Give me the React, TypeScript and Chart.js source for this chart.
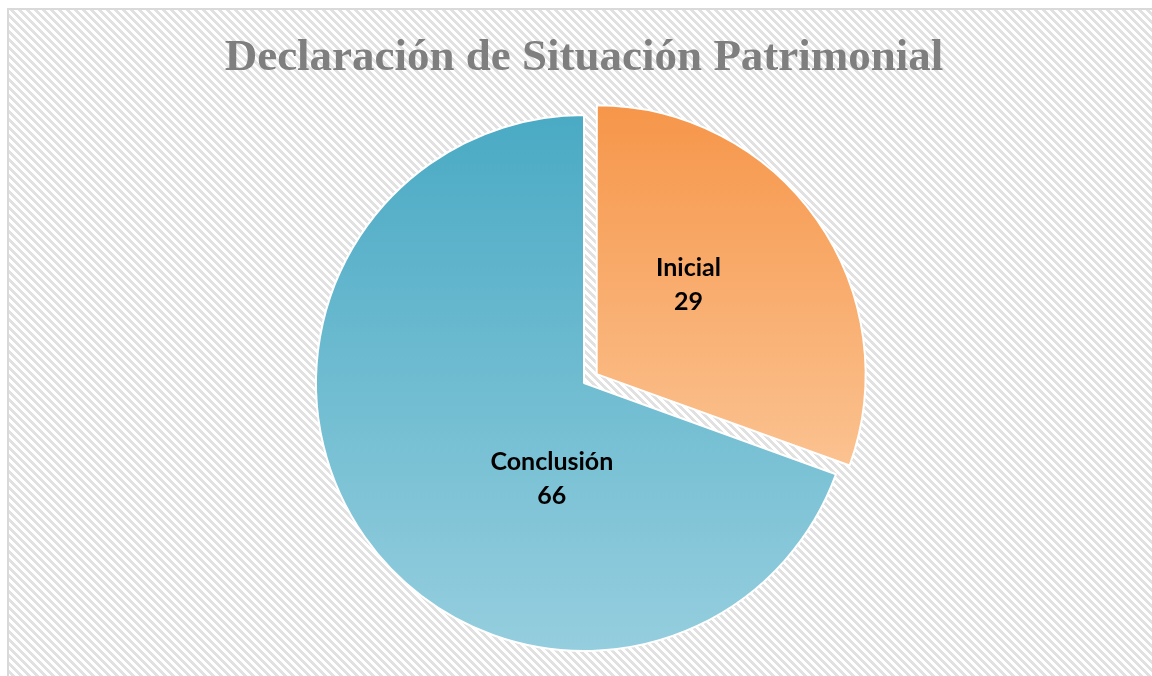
import React, { useEffect, useRef } from "react";
import { Chart, registerables } from "chart.js";

Chart.register(...registerables);

const TITLE = "Declaración de Situación Patrimonial";
const CATEGORIES = ["Inicial", "Conclusión"];
const VALUES = [29, 66];

const TOP_COLORS = ["#F6964A", "#4AAAC4"];
const BOTTOM_COLORS = ["#FBC290", "#95CEDE"];
// Chart.js draws an arc shifted by offset / 4
const OFFSETS = [62, 0];
// label anchor relative to the pie centre, in fractions of the radius
const LABEL_DX = [0.39, -0.12];
const LABEL_DY = [-0.367, 0.358];
const RADIUS = 268;

function makePattern(ctx: CanvasRenderingContext2D) {
  const p = document.createElement("canvas");
  p.width = 8;
  p.height = 8;
  const pc = p.getContext("2d")!;
  pc.fillStyle = "#ffffff";
  pc.fillRect(0, 0, 8, 8);
  pc.fillStyle = "#e1e1e1";
  for (let y = 0; y < 8; y++) {
    for (let x = 0; x < 8; x++) {
      const m = (((x - y) % 8) + 8) % 8;
      if (m < 4) pc.fillRect(x, y, 1, 1);
    }
  }
  return ctx.createPattern(p, "repeat")!;
}

const backgroundPlugin = {
  id: "hatchBackground",
  beforeDraw(chart: any) {
    const ctx = chart.ctx as CanvasRenderingContext2D;
    ctx.save();
    ctx.fillStyle = "#ffffff";
    ctx.fillRect(0, 0, chart.width, chart.height);
    ctx.fillStyle = makePattern(ctx);
    ctx.fillRect(8, 9, chart.width, chart.height);
    ctx.strokeStyle = "#d9d9d9";
    ctx.lineWidth = 2;
    ctx.beginPath();
    ctx.moveTo(8, chart.height);
    ctx.lineTo(8, 9);
    ctx.lineTo(chart.width, 9);
    ctx.stroke();
    ctx.restore();
  },
};

const labelPlugin = {
  id: "sliceLabels",
  afterDatasetsDraw(chart: any) {
    const ctx = chart.ctx as CanvasRenderingContext2D;
    const meta = chart.getDatasetMeta(0);
    ctx.save();
    ctx.fillStyle = "#000000";
    ctx.font = "bold 25px Lato";
    ctx.textAlign = "center";
    ctx.textBaseline = "middle";
    meta.data.forEach((arc: any, i: number) => {
      const p = arc.getProps(["x", "y", "outerRadius"], true);
      const cx = p.x + LABEL_DX[i] * p.outerRadius;
      const cy = p.y + LABEL_DY[i] * p.outerRadius;
      ctx.fillText(CATEGORIES[i], cx, cy - 17);
      ctx.fillText(String(VALUES[i]), cx, cy + 17);
    });
    ctx.restore();
  },
};

function sliceGradient(c: any) {
  const i = c.dataIndex;
  const chart = c.chart;
  const area = chart.chartArea;
  if (!area) return TOP_COLORS[i];
  const cy = (area.top + area.bottom) / 2;
  const total = VALUES.reduce((a, b) => a + b, 0);
  let a0 = -Math.PI / 2;
  for (let k = 0; k < i; k++) a0 += (VALUES[k] / total) * Math.PI * 2;
  const a1 = a0 + (VALUES[i] / total) * Math.PI * 2;
  const ys = [0, Math.sin(a0), Math.sin(a1)];
  const within = (t: number) => {
    for (let k = -2; k <= 2; k++) {
      const tt = t + k * Math.PI * 2;
      if (tt >= a0 && tt <= a1) return true;
    }
    return false;
  };
  if (within(Math.PI / 2)) ys.push(1);
  if (within(-Math.PI / 2)) ys.push(-1);
  const y0 = cy + RADIUS * Math.min(...ys);
  const y1 = cy + RADIUS * Math.max(...ys);
  const g = chart.ctx.createLinearGradient(0, y0, 0, y1);
  g.addColorStop(0, TOP_COLORS[i]);
  g.addColorStop(1, BOTTOM_COLORS[i]);
  return g;
}

export default function App() {
  const ref = useRef<HTMLCanvasElement | null>(null);
  useEffect(() => {
    if (!ref.current) return;
    const chart = new Chart(ref.current, {
      type: "pie",
      data: {
        labels: CATEGORIES,
        datasets: [
          {
            data: VALUES,
            backgroundColor: sliceGradient as any,
            borderColor: "#ffffff",
            borderWidth: 2,
            offset: OFFSETS,
            radius: RADIUS,
          } as any,
        ],
      },
      options: {
        responsive: false,
        animation: false,
        layout: { padding: { left: 24, right: 8, top: 0, bottom: 0 } },
        plugins: {
          legend: { display: false },
          tooltip: { enabled: false },
          title: {
            display: true,
            text: TITLE,
            color: "#7f7f7f",
            font: { family: "'Liberation Serif'", size: 45, weight: "bold", lineHeight: 1.2 },
            padding: { top: 31, bottom: 5 },
          },
        },
      },
      plugins: [backgroundPlugin, labelPlugin],
    });
    return () => chart.destroy();
  }, []);
  return (
    <div style={{ position: "fixed", left: 0, top: 0, width: 1152, height: 676 }}>
      <canvas ref={ref} width={1152} height={676} />
    </div>
  );
}
